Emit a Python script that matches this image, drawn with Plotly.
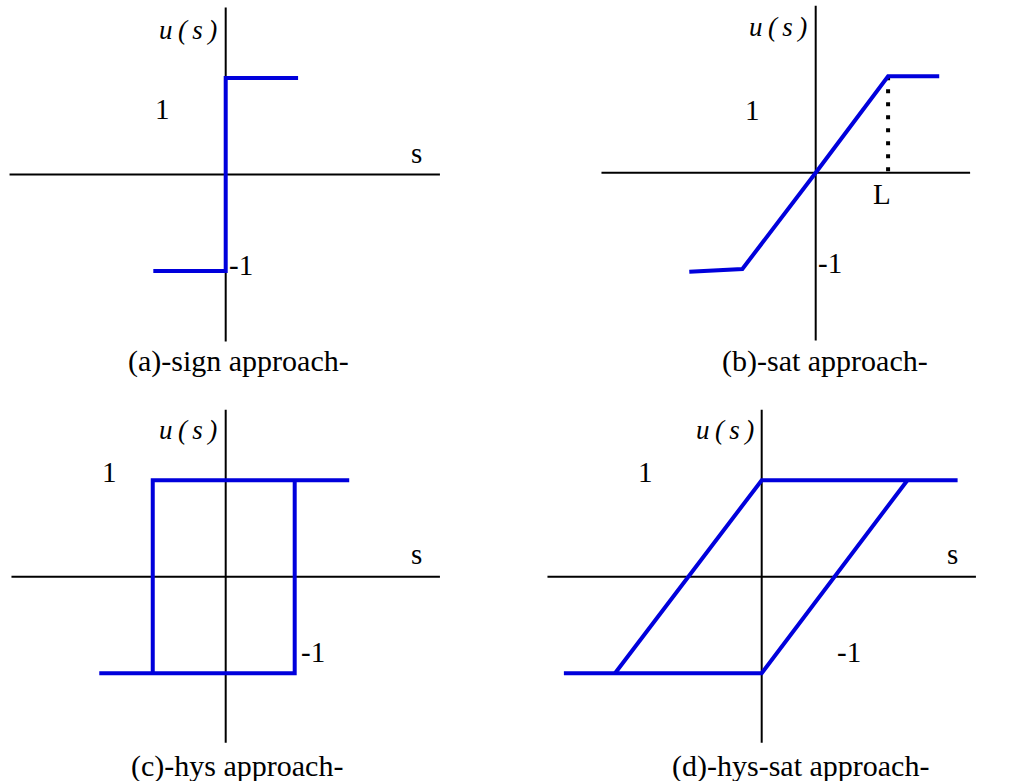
import plotly.graph_objects as go

W, H = 1025, 781
PX_PER_UNIT = 96.5          # pixels per unit of s and u, same in every panel
BLUE = "#0000dc"
FONT = "Liberation Serif"

# (a) sign approach
sign_s = [-0.75, 0, 0, 0.75]
sign_u = [-1, -1, 1, 1]

# (b) sat approach, boundary layer width L
sat_L = 0.75
sat_s = [-1.31, -0.76, 0, sat_L, 1.28]
sat_u = [-1.026, -0.998, 0, 1, 1]

# (c) hys approach: upper branch / lower branch
hys_up_s = [-0.756, -0.756, 1.28]
hys_up_u = [-1, 1, 1]
hys_lo_s = [-1.31, 0.715, 0.715]
hys_lo_u = [-1, -1, 1]

# (d) hys-sat approach: upper branch / lower branch
hs_up_s = [-1.52, 0, 2.03]
hs_up_u = [-1, 1, 1]
hs_lo_s = [-2.05, 0, 1.51]
hs_lo_u = [-1, -1, 1]

captions = ["(a)-sign approach-", "(b)-sat approach-",
            "(c)-hys approach-", "(d)-hys-sat approach-"]
U_LABEL = "<i>u\u2009(\u2009s\u2009)</i>"

# panel frames: pixel rectangle and pixel position of the origin
panels = [
    dict(rect=(0, 0, 512, 390), origin=(225.7, 174.5),
         s_axis=(-2.24, 2.22), u_axis=(-1.73, 1.73)),
    dict(rect=(512, 0, 1025, 390), origin=(815.7, 172.7),
         s_axis=(-2.22, 1.60), u_axis=(-1.74, 1.73)),
    dict(rect=(0, 390, 512, 781), origin=(225.7, 576.7),
         s_axis=(-2.22, 2.22), u_axis=(-1.72, 1.73)),
    dict(rect=(512, 390, 1025, 781), origin=(761.7, 576.7),
         s_axis=(-2.22, 2.22), u_axis=(-1.72, 1.73)),
]

fig = go.Figure()
layout = dict(width=W, height=H, margin=dict(l=0, r=0, t=0, b=0),
              paper_bgcolor="white", plot_bgcolor="white",
              showlegend=False, hovermode=False)

for i, p in enumerate(panels, start=1):
    x0, y0, x1, y1 = p["rect"]
    ox, oy = p["origin"]
    suffix = "" if i == 1 else str(i)
    common = dict(showgrid=False, zeroline=False, showticklabels=False,
                  ticks="", showline=False, fixedrange=True)
    layout["xaxis" + suffix] = dict(
        domain=[x0 / W, x1 / W],
        range=[(x0 - ox) / PX_PER_UNIT, (x1 - ox) / PX_PER_UNIT],
        anchor="y" + suffix, **common)
    layout["yaxis" + suffix] = dict(
        domain=[1 - y1 / H, 1 - y0 / H],
        range=[(oy - y1) / PX_PER_UNIT, (oy - y0) / PX_PER_UNIT],
        anchor="x" + suffix, **common)
    p["xref"], p["yref"] = "x" + suffix, "y" + suffix

    # coordinate axes
    sa, ua = p["s_axis"], p["u_axis"]
    fig.add_trace(go.Scatter(x=[sa[0], sa[1], None, 0, 0],
                             y=[0, 0, None, ua[0], ua[1]],
                             mode="lines", line=dict(color="black", width=2),
                             xaxis=p["xref"], yaxis=p["yref"]))


def curve(s, u, panel, color=BLUE, width=4, dash=None):
    fig.add_trace(go.Scatter(x=s, y=u, mode="lines",
                             line=dict(color=color, width=width, dash=dash),
                             xaxis=panel["xref"], yaxis=panel["yref"]))


curve(sign_s, sign_u, panels[0])
curve([sat_L, sat_L], [1, 0], panels[1], color="black", width=4, dash="4px,9px")
curve(sat_s, sat_u, panels[1])
curve(hys_up_s, hys_up_u, panels[2])
curve(hys_lo_s, hys_lo_u, panels[2])
curve(hs_up_s, hs_up_u, panels[3])
curve(hs_lo_s, hs_lo_u, panels[3])

annotations = []


def label(panel, x, y, text, size=29):
    annotations.append(dict(x=x, y=y, xref=panel["xref"], yref=panel["yref"],
                            text=text, showarrow=False,
                            font=dict(family=FONT, size=size, color="black"),
                            xanchor="center", yanchor="middle"))


# (a)
label(panels[0], -0.39, 1.50, U_LABEL, size=27)
label(panels[0], -0.65, 0.68, "1")
label(panels[0], 1.98, 0.22, "s")
label(panels[0], 0.16, -0.94, "-1")
# (b)
label(panels[1], -0.39, 1.51, U_LABEL, size=27)
label(panels[1], -0.65, 0.65, "1")
label(panels[1], 0.15, -0.94, "-1")
label(panels[1], 0.69, -0.22, "L")
# (c)
label(panels[2], -0.39, 1.52, U_LABEL, size=27)
label(panels[2], -1.20, 1.085, "1")
label(panels[2], 1.98, 0.24, "s")
label(panels[2], 0.90, -0.78, "-1")
# (d)
label(panels[3], -0.38, 1.52, U_LABEL, size=27)
label(panels[3], -1.20, 1.085, "1")
label(panels[3], 1.98, 0.24, "s")
label(panels[3], 0.90, -0.78, "-1")

caption_pos = [(0.13, -1.93), (0.10, -1.95), (0.12, -1.96), (0.40, -1.96)]
for p, text, (cx, cy) in zip(panels, captions, caption_pos):
    label(p, cx, cy, text, size=30)

layout["annotations"] = annotations
fig.update_layout(**layout)
fig.write_html("out.html")
